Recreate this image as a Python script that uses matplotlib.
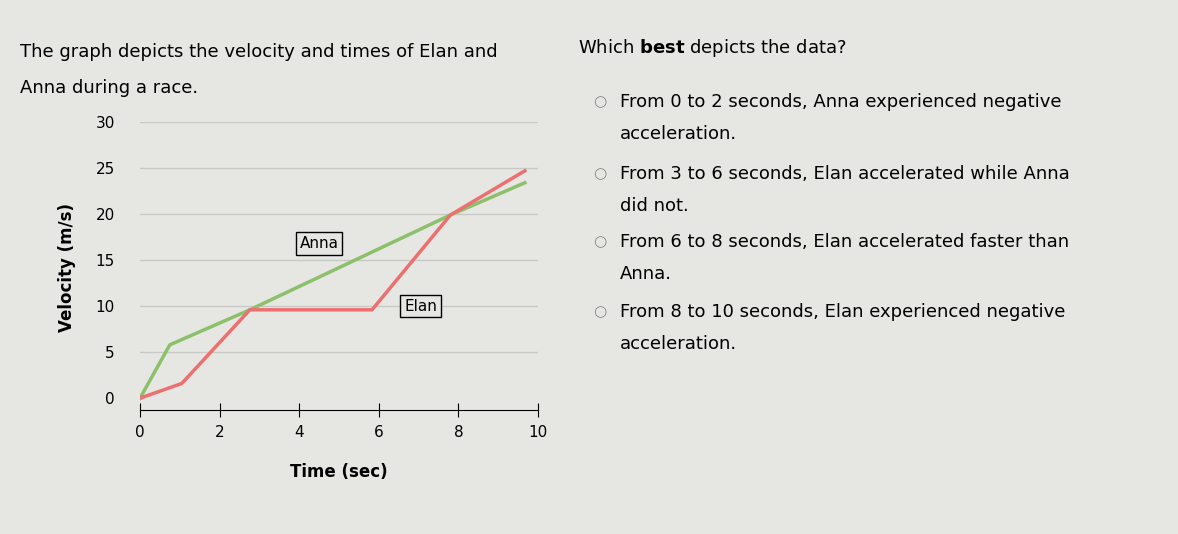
import matplotlib
matplotlib.use("Agg")
import matplotlib.pyplot as plt

anna_t = [0, 0.75, 2.76, 7.8, 9.67]
anna_v = [0, 5.8, 9.6, 19.9, 23.4]
elan_t = [0, 1.05, 2.76, 5.83, 7.8, 9.67]
elan_v = [0, 1.6, 9.6, 9.6, 19.9, 24.7]
xticks = [0, 2, 4, 6, 8, 10]
yticks = [0, 5, 10, 15, 20, 25, 30]

W, H = 1178, 534
fig = plt.figure(figsize=(W/100, H/100), dpi=100, facecolor="#e6e6e3")
ax = fig.add_axes([140/W, 1-412/H, 398/W, 290/H])
ax.set_facecolor("#e6e6e3")
ax.set_xlim(0, 10)
for y in yticks[1:]:
    ax.axhline(y, color="#c8c8c5", lw=1)
ax.plot(anna_t, anna_v, color="#8cc06a", lw=2.5)
ax.plot(elan_t, elan_v, color="#ec7070", lw=2.5)
for s in ["top", "right", "left"]:
    ax.spines[s].set_visible(False)
ax.set_ylim(-1.5, 30)
ax.spines["bottom"].set_position(("data", -1.3))
ax.set_xticks(xticks)
ax.set_yticks(yticks)
ax.tick_params(axis="x", direction="inout", length=10, labelsize=11, pad=6)
ax.tick_params(axis="y", length=0, labelsize=11, pad=18)
ax.set_xlabel("Time (sec)", fontsize=12, fontweight="bold", labelpad=16)
ax.set_ylabel("Velocity (m/s)", fontsize=12, fontweight="bold", labelpad=14)
ax.text(4.5, 16.8, "Anna", fontsize=11, ha="center", va="center",
        bbox=dict(boxstyle="square,pad=0.25", fc="#e6e6e3", ec="black"))
ax.text(7.05, 10.0, "Elan", fontsize=11, ha="center", va="center",
        bbox=dict(boxstyle="square,pad=0.25", fc="#e6e6e3", ec="black"))

fs = 13
fig.text(20/W, 1-52/H, "The graph depicts the velocity and times of Elan and", fontsize=fs, va="center")
fig.text(20/W, 1-88/H, "Anna during a race.", fontsize=fs, va="center")
fig.text(578/W, 1-48/H, "Which $\\bf{best}$ depicts the data?", fontsize=fs, va="center")
opts = [("From 0 to 2 seconds, Anna experienced negative", "acceleration.", 102),
        ("From 3 to 6 seconds, Elan accelerated while Anna", "did not.", 174),
        ("From 6 to 8 seconds, Elan accelerated faster than", "Anna.", 242),
        ("From 8 to 10 seconds, Elan experienced negative", "acceleration.", 312)]
for l1, l2, y in opts:
    fig.text(593/W, 1-y/H, "○", fontsize=11, va="center", color="#888888")
    fig.text(620/W, 1-y/H, l1, fontsize=fs, va="center")
    fig.text(620/W, 1-(y+32)/H, l2, fontsize=fs, va="center")
fig.savefig("out.png", dpi=100, facecolor=fig.get_facecolor())
